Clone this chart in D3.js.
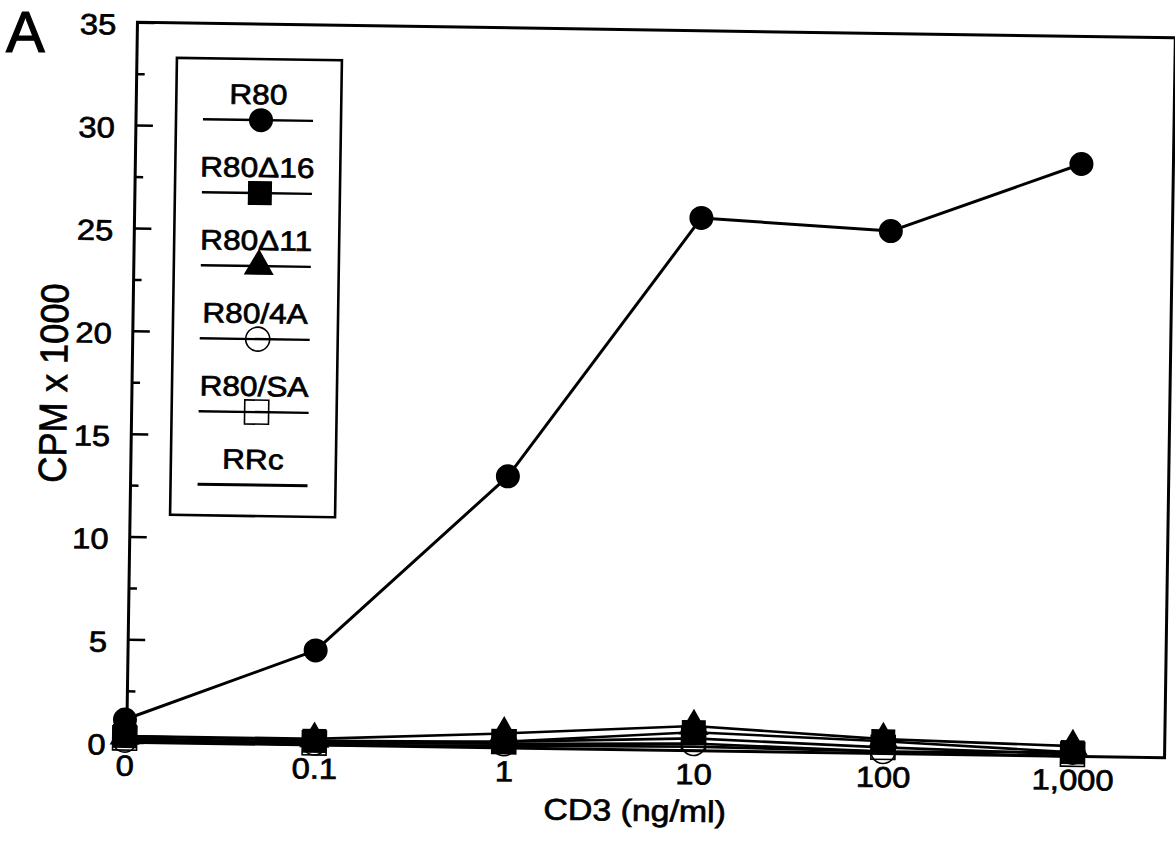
<!DOCTYPE html>
<html>
<head>
<meta charset="utf-8">
<script src="https://cdn.jsdelivr.net/npm/d3@7"></script>
<style>
  body { margin: 0; background: #fff; }
  svg { display: block; }
  text { font-family: "Liberation Sans", Arial, Helvetica, sans-serif; fill: #000; stroke: #000; stroke-width: 0.7px; }
</style>
</head>
<body>
<svg id="chart" width="1175" height="856"></svg>
<script>
// CD3 dose (ng/ml) on the x axis
const doses = ["0", "0.1", "1", "10", "100", "1,000"];

// Proliferation, CPM x 1000, one array per transfectant
const r80    = [1.1, 4.6, 13.2, 25.9, 25.4, 28.8];
const r80d16 = [0.3, 0.2, 0.3, 0.9, 0.6, 0.2];
const r80d11 = [0.3, 0.3, 0.7, 1.2, 0.7, 0.5];
const r80_4A = [0.1, 0.1, 0.2, 0.35, 0.1, 0.2];
const r80_SA = [0.2, 0.1, 0.3, 0.6, 0.3, 0.1];
const rrc    = [0.1, 0.0, 0.1, 0.2, 0.1, 0.0];

const seriesNames = ["R80", "R80\u039416", "R80\u039411", "R80/4A", "R80/SA", "RRc"];
const seriesValues = [r80, r80d16, r80d11, r80_4A, r80_SA, rrc];
const seriesMarks = ["circle", "square", "triangle", "openCircle", "openSquare", "none"];

const yMajorTicks = [0, 5, 10, 15, 20, 25, 30, 35];
const yMinorTicks = [2.5, 7.5, 12.5, 17.5, 22.5, 27.5, 32.5];

const SX = 1.13;           // wide Helvetica-style lettering
const plotLeft = 132, plotRight = 1170, plotTop = 30, plotBottom = 750;

const svg = d3.select("#chart");

// panel letter
svg.append("text").attr("x", 6).attr("y", 52)
  .attr("font-size", 58).style("stroke-width", "1.2px").text("A");

// the whole plot sits on a slight clockwise tilt
const g = svg.append("g").attr("transform", "rotate(0.86,650,390)");

const x = d3.scalePoint().domain(doses).range([130, 1078]);
const y = d3.scaleLinear().domain([0, 35]).range([plotBottom, plotTop]);

// frame
g.append("rect")
  .attr("x", plotLeft).attr("y", y(35))
  .attr("width", plotRight - plotLeft).attr("height", y(0) - y(35))
  .attr("fill", "none").attr("stroke", "#000").attr("stroke-width", 3);

// y axis: inward major and minor ticks
const gy = g.append("g").attr("transform", `translate(${plotLeft},0)`)
  .call(d3.axisLeft(y).tickValues(yMajorTicks).tickSize(-17).tickPadding(0).tickFormat(d3.format("d")));
gy.attr("font-size", null).attr("font-family", null);
gy.select(".domain").remove();
gy.selectAll(".tick line").attr("stroke", "#000").attr("stroke-width", 2.5);
gy.selectAll(".tick text")
  .attr("x", -21 / SX).attr("dy", "0.42em")
  .attr("transform", `scale(${SX},1)`)
  .attr("font-size", 29).attr("fill", "#000");

const gyMinor = g.append("g").attr("transform", `translate(${plotLeft},0)`)
  .call(d3.axisLeft(y).tickValues(yMinorTicks).tickSize(-8).tickFormat(""));
gyMinor.select(".domain").remove();
gyMinor.selectAll(".tick line").attr("stroke", "#000").attr("stroke-width", 2.5);

// x axis labels only
const gx = g.append("g").attr("transform", `translate(0,${plotBottom})`)
  .call(d3.axisBottom(x).tickSize(0).tickPadding(13));
gx.attr("font-size", null).attr("font-family", null);
gx.select(".domain").remove();
gx.selectAll(".tick text")
  .attr("transform", `scale(${SX},1)`)
  .attr("font-size", 29).attr("fill", "#000");

// axis titles
g.append("text")
  .attr("transform", `translate(641,821) scale(${SX},1)`)
  .attr("text-anchor", "middle").attr("font-size", 30)
  .text("CD3 (ng/ml)");
g.append("text")
  .attr("transform", `translate(67,392) rotate(-90) scale(0.93,1)`)
  .attr("text-anchor", "middle").attr("font-size", 39)
  .text("CPM x 1000");

// marker drawing
const symTri = d3.symbol().type(d3.symbolTriangle).size(390)();
function drawMarker(sel, kind) {
  if (kind === "circle") {
    sel.append("circle").attr("r", 12).attr("fill", "#000");
  } else if (kind === "square") {
    sel.append("rect").attr("x", -12).attr("y", -12).attr("width", 24).attr("height", 24).attr("fill", "#000");
  } else if (kind === "triangle") {
    sel.append("path").attr("d", symTri).attr("fill", "#000");
  } else if (kind === "openCircle") {
    sel.append("circle").attr("r", 12).attr("fill", "none").attr("stroke", "#000").attr("stroke-width", 1.6);
  } else if (kind === "openSquare") {
    sel.append("rect").attr("x", -12).attr("y", -12).attr("width", 24).attr("height", 24)
      .attr("fill", "none").attr("stroke", "#000").attr("stroke-width", 1.6);
  }
}

const line = d3.line().x((d, i) => x(doses[i])).y(d => y(d));

// low series first, R80 on top
const order = [5, 4, 3, 1, 2, 0];
order.forEach(k => {
  const vals = seriesValues[k];
  g.append("path").datum(vals)
    .attr("d", line)
    .attr("fill", "none").attr("stroke", "#000")
    .attr("stroke-width", k === 0 ? 3 : 2.6)
    .attr("stroke-linejoin", "round");
  vals.forEach((v, i) => {
    const m = g.append("g").attr("transform", `translate(${x(doses[i])},${y(v)})`);
    drawMarker(m, seriesMarks[k]);
  });
});

// legend
const lg = g.append("g");
lg.append("rect").attr("x", 172).attr("y", 65).attr("width", 165).attr("height", 457)
  .attr("fill", "#fff").attr("stroke", "#000").attr("stroke-width", 2.6);
const ly = d3.scaleLinear().domain([0, 5]).range([126, 491]);
const lcx = 254;
seriesNames.forEach((name, k) => {
  const yy = ly(k);
  lg.append("text")
    .attr("transform", `translate(${lcx},${yy - 16}) scale(${SX},1)`)
    .attr("text-anchor", "middle").attr("font-size", 28)
    .text(name);
  lg.append("line").attr("x1", lcx - 55).attr("x2", lcx + 55)
    .attr("y1", yy).attr("y2", yy)
    .attr("stroke", "#000").attr("stroke-width", k === 5 ? 3 : 2.4);
  const m = lg.append("g").attr("transform", `translate(${lcx + 3},${yy})`);
  drawMarker(m, seriesMarks[k]);
});
</script>
</body>
</html>
